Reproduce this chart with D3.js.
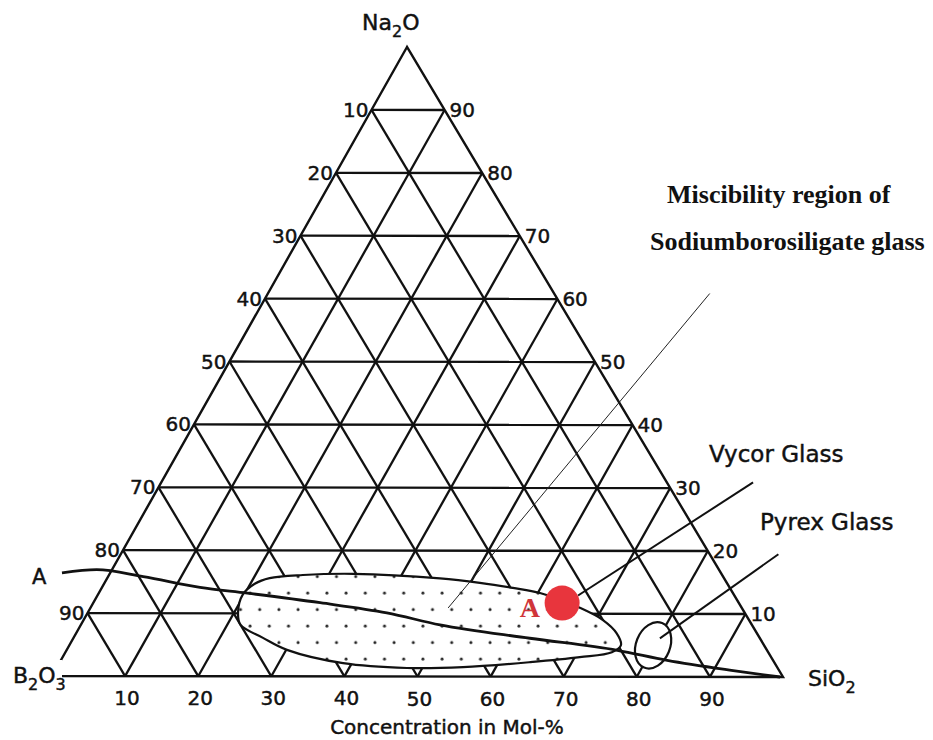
<!DOCTYPE html>
<html>
<head>
<meta charset="utf-8">
<script src="https://cdn.jsdelivr.net/npm/d3@7"></script>
<style>
  body { margin: 0; background: #fff; }
  svg { display: block; }
  text { font-family: "DejaVu Sans", sans-serif; fill: #111; }
  .sans { stroke: #111; stroke-width: 0.45px; }
</style>
</head>
<body>
<div id="chart"></div>
<script>
// Ternary diagram Na2O - B2O3 - SiO2, all values in mol-%
// points are [SiO2, Na2O], B2O3 is the rest

const gridSteps = [10, 20, 30, 40, 50, 60, 70, 80, 90];
const leftLabels = ['10', '20', '30', '40', '50', '60', '70', '80', '90'];
const rightLabels = ['90', '80', '70', '60', '50', '40', '30', '20', '10'];
const bottomLabels = ['10', '20', '30', '40', '50', '60', '70', '80', '90'];

// boundary line "A"
const lineA = [
    [-6.6, 16.4], [-2.1, 16.9], [4.8, 15.8], [13.4, 14.1], [20.3, 13.2],
    [31.0, 11.7], [40.9, 10.1], [49.1, 8.2], [62.4, 6.1], [75.3, 4.2],
    [82.9, 2.6], [92.7, 1.0], [99.6, 0.0]
];

// miscibility gap outline
const miscibility = [
    [20.5, 10.2], [19.8, 13.0], [20.6, 14.7], [22.2, 15.6], [26.5, 16.1],
    [33.3, 16.3], [45.5, 15.6], [51.3, 14.9], [56.2, 14.1], [60.3, 13.3],
    [67.0, 10.9], [71.0, 9.0], [73.9, 6.9], [75.4, 5.0], [74.7, 3.9],
    [70.7, 3.1], [64.3, 2.3], [55.5, 1.5], [47.9, 1.35], [38.8, 2.1],
    [30.1, 4.2], [25.9, 6.1], [21.8, 8.2]
];

const vycorPoint = [64.1, 11.7];
const pyrexPoint = [79.8, 5.0];

const vycorLeader = [[65.7, 12.9], [80.9, 30.9]];
const pyrexLeader = [[80.2, 6.1], [89.9, 19.5]];
const miscibilityLeader = [[48.9, 10.9], [60.4, 60.9]];

const width = 933;
const height = 740;

// corners in pixels
const apex = [407, 47];
const cornerB = [52, 676];
const cornerS = [783, 677];

const siX = d3.scaleLinear().domain([0, 100]).range([0, cornerS[0] - cornerB[0]]);
const siY = d3.scaleLinear().domain([0, 100]).range([0, cornerS[1] - cornerB[1]]);
const naX = d3.scaleLinear().domain([0, 100]).range([0, apex[0] - cornerB[0]]);
const naY = d3.scaleLinear().domain([0, 100]).range([0, apex[1] - cornerB[1]]);

function project(p) {
    const si = p[0], na = p[1];
    return [cornerB[0] + siX(si) + naX(na), cornerB[1] + siY(si) + naY(na)];
}

const svg = d3.select('#chart')
    .append('svg')
    .attr('width', width)
    .attr('height', height);

svg.append('rect').attr('width', width).attr('height', height).attr('fill', '#fff');

// dotted fill pattern
const defs = svg.append('defs');
const pattern = defs.append('pattern')
    .attr('id', 'dots')
    .attr('patternUnits', 'userSpaceOnUse')
    .attr('x', 264.5)
    .attr('y', 584.75)
    .attr('width', 19.2)
    .attr('height', 33);
pattern.append('rect').attr('width', 19.2).attr('height', 33).attr('fill', '#fff');
pattern.append('circle').attr('cx', 4.8).attr('cy', 8.25).attr('r', 1.5).attr('fill', '#222');
pattern.append('circle').attr('cx', 14.4).attr('cy', 24.75).attr('r', 1.5).attr('fill', '#222');

const line = d3.line().x(d => project(d)[0]).y(d => project(d)[1]);

// grid lines
const grid = svg.append('g')
    .attr('stroke', '#111')
    .attr('stroke-width', 2.3)
    .attr('fill', 'none');

gridSteps.forEach(v => {
    grid.append('path').attr('d', line([[0, v], [100 - v, v]]));   // rows
    grid.append('path').attr('d', line([[v, 0], [v, 100 - v]]));   // parallel to left side
    grid.append('path').attr('d', line([[v, 0], [0, v]]));         // parallel to right side
});

// outer triangle
svg.append('path')
    .attr('d', line([[0, 100], [0, 0], [100, 0]]) + 'Z')
    .attr('fill', 'none')
    .attr('stroke', '#111')
    .attr('stroke-width', 2.4)
    .attr('stroke-linejoin', 'miter');

// miscibility region
const regionLine = d3.line()
    .x(d => project(d)[0])
    .y(d => project(d)[1])
    .curve(d3.curveCatmullRomClosed.alpha(0.5));

svg.append('path')
    .attr('d', regionLine(miscibility))
    .attr('fill', 'url(#dots)')
    .attr('stroke', '#111')
    .attr('stroke-width', 2.2);

// pyrex ellipse
const pyrexXY = project(pyrexPoint);
svg.append('ellipse')
    .attr('transform', `translate(${pyrexXY[0]},${pyrexXY[1]}) rotate(22)`)
    .attr('rx', 17)
    .attr('ry', 24)
    .attr('fill', '#fff')
    .attr('stroke', '#111')
    .attr('stroke-width', 2.2);

// line A
const curveA = d3.line()
    .x(d => project(d)[0])
    .y(d => project(d)[1])
    .curve(d3.curveMonotoneX);

svg.append('path')
    .attr('d', curveA(lineA))
    .attr('fill', 'none')
    .attr('stroke', '#111')
    .attr('stroke-width', 2.8);

// leader lines
svg.append('path')
    .attr('d', line(vycorLeader))
    .attr('stroke', '#111').attr('stroke-width', 2);
svg.append('path')
    .attr('d', line(pyrexLeader))
    .attr('stroke', '#111').attr('stroke-width', 2);
svg.append('path')
    .attr('d', line(miscibilityLeader))
    .attr('stroke', '#222').attr('stroke-width', 1);

// composition A
const vycorXY = project(vycorPoint);
svg.append('circle')
    .attr('cx', vycorXY[0])
    .attr('cy', vycorXY[1])
    .attr('r', 17.5)
    .attr('fill', '#e8353d');

svg.append('text')
    .attr('x', vycorXY[0] - 22)
    .attr('y', vycorXY[1] + 14)
    .attr('text-anchor', 'end')
    .style('font-family', '"Liberation Serif", serif')
    .style('font-weight', 'bold')
    .style('font-size', '28px')
    .style('fill', '#d0353a')
    .text('A');

// tick labels
const tickFont = '20px';

gridSteps.forEach((v, i) => {
    const lp = project([0, 100 - v]);
    svg.append('text')
        .attr('class', 'sans')
        .attr('x', lp[0] - 3)
        .attr('y', lp[1] + 7)
        .attr('text-anchor', 'end')
        .style('font-size', tickFont)
        .text(leftLabels[i]);

    const rp = project([v, 100 - v]);
    svg.append('text')
        .attr('class', 'sans')
        .attr('x', rp[0] + 5)
        .attr('y', rp[1] + 7)
        .attr('text-anchor', 'start')
        .style('font-size', tickFont)
        .text(rightLabels[i]);

    const bp = project([v, 0]);
    svg.append('text')
        .attr('class', 'sans')
        .attr('x', bp[0] + 2)
        .attr('y', bp[1] + 29)
        .attr('text-anchor', 'middle')
        .style('font-size', tickFont)
        .text(bottomLabels[i]);
});

// corner labels
function formula(x, y, parts, size) {
    const t = svg.append('text')
        .attr('class', 'sans')
        .attr('x', x)
        .attr('y', y)
        .style('font-size', size + 'px');
    let down = false;
    parts.forEach(part => {
        const sub = /^\d+$/.test(part);
        const ts = t.append('tspan').text(part);
        if (sub) {
            ts.style('font-size', Math.round(size * 0.72) + 'px').attr('dy', size * 0.3);
            down = true;
        } else if (down) {
            ts.attr('dy', -size * 0.3);
            down = false;
        }
    });
    return t;
}

// white patch behind B2O3 label
svg.append('rect')
    .attr('x', 12).attr('y', 660).attr('width', 50).attr('height', 30)
    .attr('fill', '#fff');

formula(362, 30, ['Na', '2', 'O'], 22);
formula(13, 683, ['B', '2', 'O', '3'], 22);
formula(808, 686, ['SiO', '2'], 22);

svg.append('text')
    .attr('class', 'sans')
    .attr('x', 32).attr('y', 584)
    .style('font-size', '21px')
    .text('A');

svg.append('text')
    .attr('class', 'sans')
    .attr('x', 447).attr('y', 734)
    .attr('text-anchor', 'middle')
    .style('font-size', '20px')
    .text('Concentration in Mol-%');

svg.append('text')
    .attr('class', 'sans')
    .attr('x', 709).attr('y', 462)
    .style('font-size', '23px')
    .text('Vycor Glass');

svg.append('text')
    .attr('class', 'sans')
    .attr('x', 760).attr('y', 530)
    .style('font-size', '23px')
    .text('Pyrex Glass');

const serifTitle = svg.append('g')
    .style('font-family', '"Liberation Serif", serif')
    .style('font-weight', 'bold')
    .style('font-size', '26px');

serifTitle.append('text')
    .attr('x', 667).attr('y', 203)
    .style('font-family', '"Liberation Serif", serif')
    .text('Miscibility region of');

serifTitle.append('text')
    .attr('x', 650).attr('y', 250)
    .style('font-family', '"Liberation Serif", serif')
    .text('Sodiumborosiligate glass');
</script>
</body>
</html>
